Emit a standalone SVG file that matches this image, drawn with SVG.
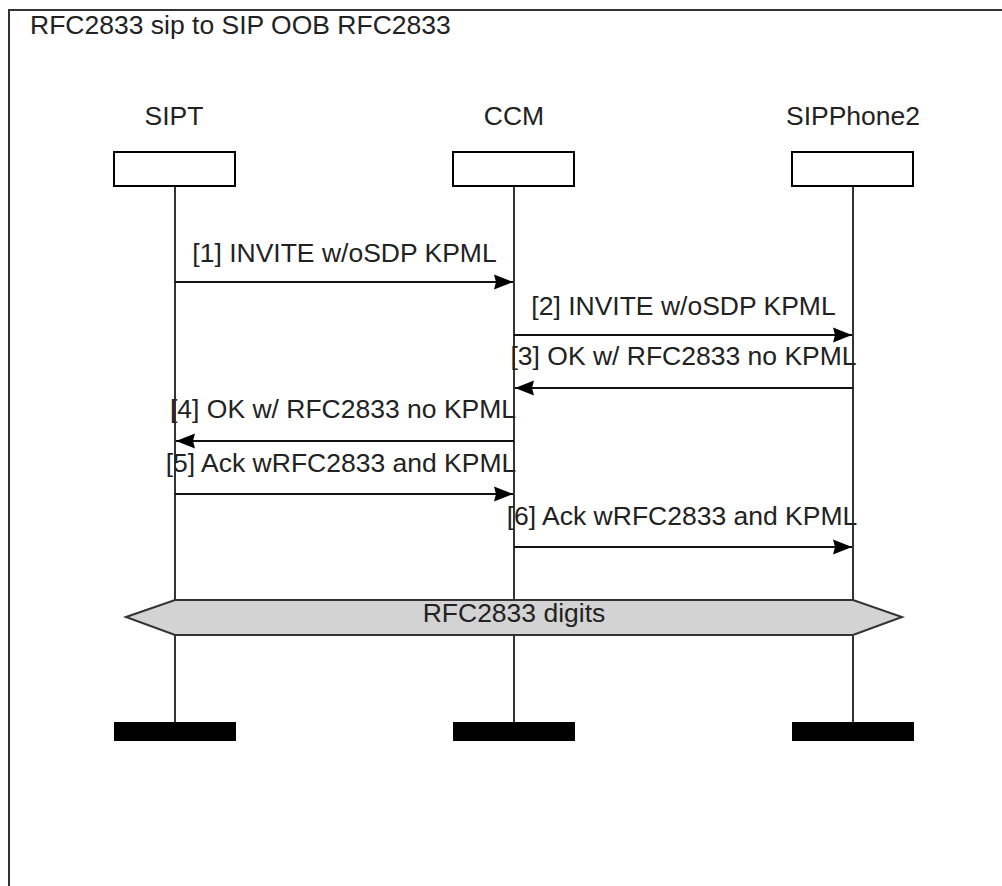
<svg xmlns="http://www.w3.org/2000/svg" width="1002" height="886" viewBox="0 0 1002 886">
<style>
text{font-family:"Liberation Sans",Arial,sans-serif;font-size:26.5px;fill:#222}
.c{text-anchor:middle}
.life{stroke:#000;stroke-width:1.6;fill:none}
.box{fill:#fff;stroke:#000;stroke-width:2}
.end{fill:#000}
.msg{stroke:#111;stroke-width:2;fill:none;marker-end:url(#ah)}
</style>
<defs>
<marker id="ah" markerUnits="userSpaceOnUse" markerWidth="22" markerHeight="18" refX="0" refY="0" viewBox="-21 -9 22 18" orient="auto" overflow="visible">
<path d="M0,0 L-19,-7.5 L-17,0 L-19,7.5 Z" fill="#000"/>
</marker>
</defs>
<rect x="9" y="10" width="1010" height="900" fill="#fff" stroke="#333" stroke-width="2"/>
<text x="30" y="34">RFC2833 sip to SIP OOB RFC2833</text>
<g id="SIPT">
<text class="c" x="174" y="125">SIPT</text>
<line class="life" x1="175" y1="186" x2="175" y2="722"/>
<rect class="box" x="114" y="152" width="121" height="34"/>
<rect class="end" x="114" y="722" width="122" height="19"/>
</g>
<g id="CCM">
<text class="c" x="514" y="125">CCM</text>
<line class="life" x1="514" y1="186" x2="514" y2="722"/>
<rect class="box" x="453" y="152" width="121" height="34"/>
<rect class="end" x="453" y="722" width="122" height="19"/>
</g>
<g id="SIPPhone2">
<text class="c" x="853" y="125">SIPPhone2</text>
<line class="life" x1="853" y1="186" x2="853" y2="722"/>
<rect class="box" x="792" y="152" width="121" height="34"/>
<rect class="end" x="792" y="722" width="122" height="19"/>
</g>
<g id="connectors">
<line class="msg" x1="175" y1="282" x2="513" y2="282"/>
<text class="c" x="344.5" y="262">[1] INVITE w/oSDP KPML</text>
<line class="msg" x1="514" y1="335" x2="852" y2="335"/>
<text class="c" x="683.5" y="315">[2] INVITE w/oSDP KPML</text>
<line class="msg" x1="853" y1="388" x2="515" y2="388"/>
<text class="c" x="683.5" y="365">[3] OK w/ RFC2833 no KPML</text>
<line class="msg" x1="514" y1="441" x2="176" y2="441"/>
<text class="c" x="343" y="418">[4] OK w/ RFC2833 no KPML</text>
<line class="msg" x1="175" y1="494" x2="513" y2="494"/>
<text class="c" x="341" y="472">[5] Ack wRFC2833 and KPML</text>
<line class="msg" x1="514" y1="547" x2="852" y2="547"/>
<text class="c" x="682" y="525">[6] Ack wRFC2833 and KPML</text>
</g>
<g id="digits">
<polygon points="126,617 175,600 853,600 902,617 853,635 175,635" fill="#d3d3d3" stroke="#333" stroke-width="2"/>
<text class="c" x="514" y="622">RFC2833 digits</text>
</g>
</svg>
